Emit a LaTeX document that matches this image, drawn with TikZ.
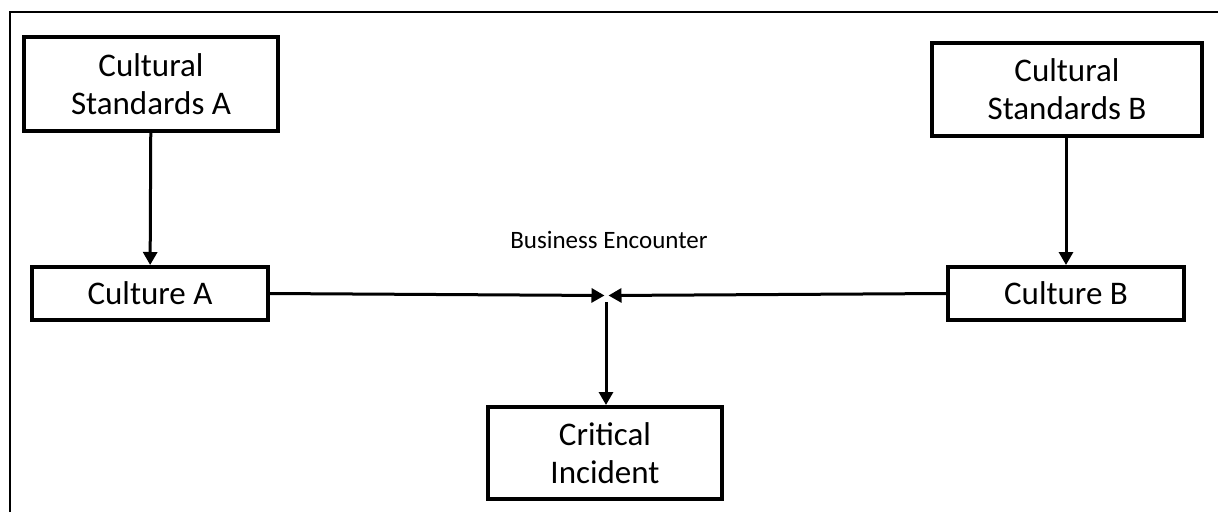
\documentclass[tikz,border=0pt]{standalone}
\usepackage{fontspec}
\setmainfont{Carlito}
\usetikzlibrary{arrows.meta}
\tikzset{
  box/.style={draw, line width=4pt, align=center, inner sep=0pt,
    font=\fontsize{33}{38}\selectfont},
  link/.style={line width=3pt, -{Triangle[length=13pt,width=14pt]}},
  frameline/.style={line width=2pt}
}
\begin{document}
\begin{tikzpicture}[x=1pt,y=-1pt]
\useasboundingbox (0,0) rectangle (1218,512);
% partial outer frame (top and left edges)
\draw[frameline] (9.5,512) -- (9.5,11.5) -- (1218,11.5);

\node[box, minimum width=254pt, minimum height=94pt] (csA) at (151,84) {Cultural\\Standards A};
\node[box, minimum width=236pt, minimum height=53pt] (cA) at (150,293.5) {Culture A};
\node[box, minimum width=270pt, minimum height=93pt] (csB) at (1067,89.5) {Cultural\\Standards B};
\node[box, minimum width=236pt, minimum height=53pt] (cB) at (1066,293.5) {Culture B};
\node[box, minimum width=234pt, minimum height=92pt] (ci) at (605,453) {Critical\\Incident};

\node[font=\fontsize{25}{30}\selectfont] (be) at (609,240) {Business Encounter};

\coordinate (jl) at (604.5,295.5);
\coordinate (jr) at (608.5,295.5);
\coordinate (jb) at (606,302);

\draw[link] (csA) -- (cA);
\draw[link] (csB.south -| cB) -- (cB);
\draw[link] (cA.east) -- (jl);
\draw[link] (cB.west) -- (jr);
\draw[link] (jb) -- (jb |- ci.north);
\end{tikzpicture}
\end{document}
